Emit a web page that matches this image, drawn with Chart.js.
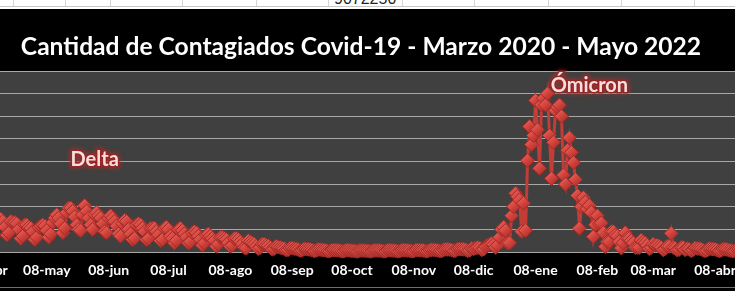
<!DOCTYPE html>
<html lang="es">
<head>
<meta charset="utf-8">
<title>Cantidad de Contagiados Covid-19</title>
<script src="https://cdn.jsdelivr.net/npm/chart.js@4.4.1/dist/chart.umd.min.js"></script>
<style>
  html, body { margin: 0; padding: 0; background: #000; }
  body { width: 735px; height: 291px; overflow: hidden; position: relative; }
  #hoja { position: absolute; left: 0; top: 0; width: 735px; height: 9px; background: #fff; overflow: hidden; }
  #hoja .col { position: absolute; top: 0; width: 1px; height: 6px; background: #d4d4d4; }
  #hoja .fila { position: absolute; left: 0; top: 6px; width: 735px; height: 1px; background: #c6c6c6; }
  #hoja .num { position: absolute; left: 334px; top: -9px; font: 16px "Liberation Sans", Arial, sans-serif; line-height: 16px; color: #222; }
  #marco { position: absolute; left: -27px; top: 9px; width: 776px; height: 282px; }
  #pie { position: absolute; left: 0; top: 287px; width: 735px; height: 1px; background: #6e6e6e; }
</style>
</head>
<body>
<div id="hoja"><div class="fila"></div><span class="num">9072250</span></div>
<div id="marco"><canvas id="grafico"></canvas></div>
<div id="pie"></div>
<script>
// contagios diarios en miles, 01-abr-2021 a 25-abr-2022 (tramo visible del gráfico)
const abr2021 = [16, 13, 10, 9, 13, 20, 22, 24, 24, 20, 13, 15, 25, 27, 29, 27, 22, 15, 17, 27, 26, 26, 25, 20, 12, 14, 24, 24, 22, 21];
const may2021 = [18, 11, 13, 22, 23, 24, 23, 19, 13, 16, 26, 30, 33, 30, 25, 17, 21, 35, 39, 39, 36, 31, 24, 20, 19, 33, 41, 36, 30, 24, 20];
const jun2021 = [33, 35, 32, 30, 25, 18, 17, 30, 32, 30, 27, 23, 16, 14, 25, 28, 27, 20, 16, 11, 12, 24, 25, 24, 21, 18, 11, 12, 21, 21];
const jul2021 = [21, 18, 15, 10, 11, 21, 22, 20, 14, 12, 8, 10, 20, 21, 19, 16, 13, 8, 9, 17, 18, 17, 14, 11, 6, 8, 15, 16, 14, 12, 10];
const ago2021 = [5, 7, 13, 13, 12, 11, 8, 5, 6, 12, 12, 11, 9, 7, 4, 3.5, 10, 9, 8, 7, 5, 3, 4, 7, 7, 6, 5.5, 4, 2.5, 3, 5];
const sep2021 = [4.5, 4, 3.5, 3, 1.8, 2, 3.5, 3.5, 3, 2.8, 2.2, 1.3, 1.6, 2.8, 2.7, 2.4, 2.2, 1.7, 1.0, 1.3, 2.2, 2.1, 1.9, 1.8, 1.4, 0.8, 1.0, 1.8, 1.8, 1.6];
const oct2021 = [1.5, 1.2, 0.7, 0.8, 1.5, 1.5, 1.3, 1.2, 1.0, 0.6, 0.6, 1.3, 1.4, 1.3, 1.2, 1.0, 0.6, 0.8, 1.4, 1.4, 1.3, 1.3, 1.0, 0.6, 0.8, 1.5, 1.5, 1.4, 1.3, 1.1, 0.6];
const nov2021 = [0.9, 1.6, 1.6, 1.5, 1.4, 1.2, 0.7, 0.9, 1.7, 1.8, 1.6, 1.6, 1.3, 0.7, 0.9, 1.8, 2.0, 1.9, 1.8, 1.4, 0.9, 1.0, 2.0, 2.4, 2.3, 2.2, 1.8, 1.1, 1.3, 2.6];
const dic2021 = [2.6, 2.5, 2.4, 2.0, 1.2, 1.5, 3.0, 2.8, 3.5, 4.0, 3.5, 2.0, 2.5, 5.0, 6, 7, 7.5, 6.5, 4, 6, 13, 20, 22, 19, 8, 8, 32, 40, 52, 49, 46];
const ene2022 = [18, 43, 19, 81, 111, 95, 103, 134, 108, 74, 130, 136, 130, 140, 103, 65, 97, 125, 128, 130, 120, 68, 60, 90, 101, 88, 79, 64, 50, 21, 40];
const feb2022 = [48, 44, 38, 41, 35, 13.5, 24, 32, 25, 25.6, 17, 4.7, 9, 9, 18, 18, 15, 14, 9, 3.5, 8, 17, 12, 12, 10, 8, 4, 4];
const mar2022 = [4, 10.6, 9, 8, 6, 3, 4, 7, 6, 6, 5, 4, 2, 3, 5, 5, 16.5, 4, 3.5, 1.8, 2.2, 4, 4, 2, 3, 2.5, 1.2, 2, 3.5, 3.2, 3];
const abr2022 = [2.5, 1.5, 1.0, 1.5, 3, 2.8, 2.6, 2.4, 1.8, 1.0, 1.3, 2.5, 2.5, 2.2, 1.5, 1.3, 0.8, 1.2, 2.4, 2.6, 2.5, 2.4, 1.8, 1.0, 1.3];

const meses = ['ene', 'feb', 'mar', 'abr', 'may', 'jun', 'jul', 'ago', 'sep', 'oct', 'nov', 'dic'];
const diaTick = '08';
const rotulos = [
  { texto: 'Delta', fecha: '01-jun', valor: 82 },
  { texto: 'Ómicron', fecha: '04-feb', valor: 147 }
];
const columnasHoja = [13, 65, 110, 182, 256, 328, 402, 474, 548, 621, 694];

const contagiados = [].concat(abr2021, may2021, jun2021, jul2021, ago2021, sep2021,
  oct2021, nov2021, dic2021, ene2022, feb2022, mar2022, abr2022);

const fechas = contagiados.map((v, i) => {
  const d = new Date(Date.UTC(2021, 3, 1 + i));
  return String(d.getUTCDate()).padStart(2, '0') + '-' + meses[d.getUTCMonth()];
});

// lineas de celdas de la hoja de calculo por encima del grafico
const hoja = document.getElementById('hoja');
columnasHoja.forEach(x => {
  const c = document.createElement('div');
  c.className = 'col';
  c.style.left = x + 'px';
  hoja.appendChild(c);
});

const fondoArea = {
  id: 'fondoArea',
  beforeDraw(chart) {
    const a = chart.chartArea;
    chart.ctx.save();
    chart.ctx.fillStyle = '#404040';
    chart.ctx.fillRect(a.left, a.top, a.right - a.left, a.bottom - a.top);
    chart.ctx.restore();
  }
};

const textoOlas = {
  id: 'textoOlas',
  afterDatasetsDraw(chart) {
    const c = chart.ctx;
    c.save();
    c.font = 'bold 20px Lato';
    c.textAlign = 'center';
    c.textBaseline = 'middle';
    rotulos.forEach(r => {
      const x = chart.scales.x.getPixelForValue(fechas.indexOf(r.fecha));
      const y = chart.scales.y.getPixelForValue(r.valor);
      c.shadowColor = '#c0302c';
      c.shadowBlur = 5;
      c.lineWidth = 3;
      c.strokeStyle = 'rgba(150,35,35,0.85)';
      c.strokeText(r.texto, x, y);
      c.shadowBlur = 0;
      c.fillStyle = '#f7dede';
      c.fillText(r.texto, x, y);
    });
    c.restore();
  }
};

// rombo con sombreado, como los marcadores de Excel
function rellenoRombo(c) {
  const chart = c.chart;
  if (!chart.chartArea || c.parsed == null || c.parsed.y == null) return '#d4443e';
  const x = chart.scales.x.getPixelForValue(c.dataIndex);
  const y = chart.scales.y.getPixelForValue(c.parsed.y);
  const g = chart.ctx.createLinearGradient(x - 5, y - 6, x + 5, y + 6);
  g.addColorStop(0, '#e8675f');
  g.addColorStop(0.5, '#d2423c');
  g.addColorStop(1, '#a52f2a');
  return g;
}

new Chart(document.getElementById('grafico').getContext('2d'), {
  type: 'line',
  data: {
    labels: fechas,
    datasets: [{
      data: contagiados,
      borderColor: '#c43c36',
      borderWidth: 3,
      pointStyle: 'rectRot',
      pointRadius: 7,
      pointBackgroundColor: rellenoRombo,
      pointBorderColor: '#a32b27',
      pointBorderWidth: 1,
      clip: false
    }]
  },
  options: {
    responsive: true,
    maintainAspectRatio: false,
    animation: false,
    layout: { padding: 0, autoPadding: false },
    plugins: {
      legend: { display: false },
      tooltip: { enabled: false },
      title: {
        display: true,
        text: 'Cantidad de Contagiados Covid-19 - Marzo 2020 - Mayo 2022',
        color: '#ffffff',
        font: { family: 'Lato', size: 24.6, weight: 'bold' },
        padding: { top: 23.2, bottom: 9.3 }
      }
    },
    scales: {
      x: {
        grid: { display: false, drawTicks: false },
        border: { display: false },
        ticks: {
          color: '#ffffff',
          font: { family: 'Lato', size: 14, weight: 'bold' },
          padding: 10,
          autoSkip: false,
          maxRotation: 0,
          minRotation: 0
        },
        afterBuildTicks(axis) {
          axis.ticks = axis.ticks.filter(t => fechas[t.value].startsWith(diaTick + '-'));
        },
        afterFit(axis) {
          axis.height = 39;
          axis.paddingLeft = 0;
          axis.paddingRight = 0;
        }
      },
      y: {
        min: 0,
        max: 160,
        ticks: { display: false, stepSize: 20 },
        grid: { color: '#a8a8a8', lineWidth: 1, drawTicks: false },
        border: { display: false }
      }
    }
  },
  plugins: [fondoArea, textoOlas]
});
</script>
</body>
</html>
